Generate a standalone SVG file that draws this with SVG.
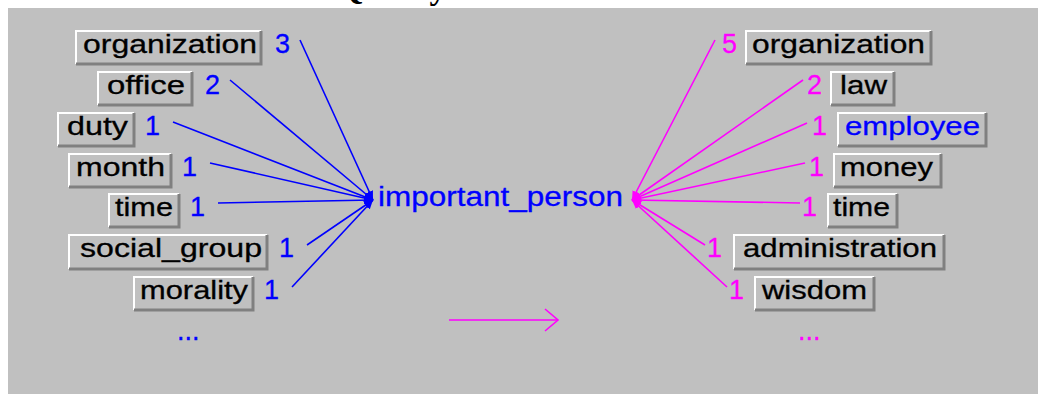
<svg xmlns="http://www.w3.org/2000/svg" width="1038" height="394" viewBox="0 0 1038 394">
  <style>
    .face { fill: #c0c0c0; }
    .hi { fill: none; stroke: #ffffff; stroke-width: 2; }
    .sh { fill: none; stroke: #808080; stroke-width: 3; }
    .lbl { font-family: "Liberation Sans", Arial, sans-serif; font-size: 26px; fill: #000000; stroke: #000000; stroke-width: 0.3; }
    .num { font-family: "Liberation Sans", Arial, sans-serif; font-size: 27px; }
    .blue { fill: #0000ff; stroke: #0000ff; stroke-width: 0.3; }
    .mag { fill: #ff00ff; stroke: #ff00ff; stroke-width: 0.3; }
    .bl { stroke: #0000ff; stroke-width: 1.6; fill: none; }
    .ml { stroke: #ff00ff; stroke-width: 1.6; fill: none; }
  </style>
  <defs>
    <marker id="ab" markerUnits="userSpaceOnUse" markerWidth="9" markerHeight="8" refX="9" refY="4" orient="auto">
      <path d="M0,0 L9,4 L0,8 z" fill="#0000ff"/>
    </marker>
    <marker id="am" markerUnits="userSpaceOnUse" markerWidth="9" markerHeight="8" refX="9" refY="4" orient="auto">
      <path d="M0,0 L9,4 L0,8 z" fill="#ff00ff"/>
    </marker>
  </defs>

  <rect x="0" y="0" width="1038" height="394" fill="#ffffff"/>
  <text x="337" y="-1" font-family="'Liberation Serif', 'Times New Roman', serif" font-size="34" font-weight="bold" fill="#000000">Quality:</text>
  <rect x="8" y="8" width="1030" height="386" fill="#c0c0c0"/>

  <g id="connectors">
    <line class="bl" x1="300" y1="40" x2="373" y2="200" marker-end="url(#ab)"/>
    <line class="bl" x1="230" y1="80" x2="373" y2="200" marker-end="url(#ab)"/>
    <line class="bl" x1="173" y1="122" x2="373" y2="200" marker-end="url(#ab)"/>
    <line class="bl" x1="210" y1="163" x2="373" y2="200" marker-end="url(#ab)"/>
    <line class="bl" x1="218" y1="203" x2="373" y2="200" marker-end="url(#ab)"/>
    <line class="bl" x1="307" y1="245" x2="373" y2="200" marker-end="url(#ab)"/>
    <line class="bl" x1="292" y1="287" x2="373" y2="200" marker-end="url(#ab)"/>

    <line class="ml" x1="715" y1="40" x2="632" y2="200" marker-end="url(#am)"/>
    <line class="ml" x1="803" y1="80" x2="632" y2="200" marker-end="url(#am)"/>
    <line class="ml" x1="807" y1="123" x2="632" y2="200" marker-end="url(#am)"/>
    <line class="ml" x1="805" y1="163" x2="632" y2="200" marker-end="url(#am)"/>
    <line class="ml" x1="800" y1="203" x2="632" y2="200" marker-end="url(#am)"/>
    <line class="ml" x1="705" y1="245" x2="632" y2="200" marker-end="url(#am)"/>
    <line class="ml" x1="727" y1="287" x2="632" y2="200" marker-end="url(#am)"/>

    <line class="ml" x1="449" y1="320" x2="558" y2="320"/>
    <path class="ml" d="M545,309 L558,320 L545,331"/>
  </g>

  <g id="center">
    <text class="num blue" x="378" y="206" textLength="245" lengthAdjust="spacingAndGlyphs">important_person</text>
  </g>

  <!-- Left nodes -->
  <g id="l-organization">
    <rect class="face" x="75" y="30" width="187" height="35"/>
    <path class="hi" d="M76,64 V31 H261"/>
    <path class="sh" d="M76,64 H261 V31"/>
    <text class="lbl" x="83" y="53" textLength="174" lengthAdjust="spacingAndGlyphs">organization</text>
    <text class="num blue" x="275" y="53">3</text>
  </g>
  <g id="l-office">
    <rect class="face" x="97" y="71" width="96" height="35"/>
    <path class="hi" d="M98,105 V72 H192"/>
    <path class="sh" d="M98,105 H192 V72"/>
    <text class="lbl" x="107" y="94" textLength="78" lengthAdjust="spacingAndGlyphs">office</text>
    <text class="num blue" x="205" y="94">2</text>
  </g>
  <g id="l-duty">
    <rect class="face" x="57" y="112" width="78" height="35"/>
    <path class="hi" d="M58,146 V113 H134"/>
    <path class="sh" d="M58,146 H134 V113"/>
    <text class="lbl" x="67" y="135" textLength="61" lengthAdjust="spacingAndGlyphs">duty</text>
    <text class="num blue" x="145" y="135">1</text>
  </g>
  <g id="l-month">
    <rect class="face" x="68" y="153" width="104" height="35"/>
    <path class="hi" d="M69,187 V154 H171"/>
    <path class="sh" d="M69,187 H171 V154"/>
    <text class="lbl" x="76" y="176" textLength="89" lengthAdjust="spacingAndGlyphs">month</text>
    <text class="num blue" x="182" y="176">1</text>
  </g>
  <g id="l-time">
    <rect class="face" x="108" y="193" width="72" height="35"/>
    <path class="hi" d="M109,227 V194 H179"/>
    <path class="sh" d="M109,227 H179 V194"/>
    <text class="lbl" x="115" y="216" textLength="58" lengthAdjust="spacingAndGlyphs">time</text>
    <text class="num blue" x="190" y="216">1</text>
  </g>
  <g id="l-social_group">
    <rect class="face" x="68" y="234" width="200" height="36"/>
    <path class="hi" d="M69,269 V235 H267"/>
    <path class="sh" d="M69,269 H267 V235"/>
    <text class="lbl" x="80" y="257" textLength="182" lengthAdjust="spacingAndGlyphs">social_group</text>
    <text class="num blue" x="279" y="257">1</text>
  </g>
  <g id="l-morality">
    <rect class="face" x="133" y="276" width="121" height="35"/>
    <path class="hi" d="M134,310 V277 H253"/>
    <path class="sh" d="M134,310 H253 V277"/>
    <text class="lbl" x="140" y="299" textLength="108" lengthAdjust="spacingAndGlyphs">morality</text>
    <text class="num blue" x="264" y="299">1</text>
  </g>
  <g id="l-more">
    <text class="num blue" x="177" y="340">...</text>
  </g>

  <!-- Right nodes -->
  <g id="r-organization">
    <rect class="face" x="745" y="30" width="187" height="35"/>
    <path class="hi" d="M746,64 V31 H931"/>
    <path class="sh" d="M746,64 H931 V31"/>
    <text class="lbl" x="752" y="53" textLength="173" lengthAdjust="spacingAndGlyphs">organization</text>
    <text class="num mag" x="722" y="53">5</text>
  </g>
  <g id="r-law">
    <rect class="face" x="830" y="71" width="65" height="35"/>
    <path class="hi" d="M831,105 V72 H894"/>
    <path class="sh" d="M831,105 H894 V72"/>
    <text class="lbl" x="840" y="94" textLength="47" lengthAdjust="spacingAndGlyphs">law</text>
    <text class="num mag" x="807" y="94">2</text>
  </g>
  <g id="r-employee">
    <rect class="face" x="837" y="112" width="150" height="35"/>
    <path class="hi" d="M838,146 V113 H986"/>
    <path class="sh" d="M838,146 H986 V113"/>
    <text class="lbl blue" x="845" y="135" textLength="135" lengthAdjust="spacingAndGlyphs">employee</text>
    <text class="num mag" x="812" y="135">1</text>
  </g>
  <g id="r-money">
    <rect class="face" x="833" y="153" width="109" height="35"/>
    <path class="hi" d="M834,187 V154 H941"/>
    <path class="sh" d="M834,187 H941 V154"/>
    <text class="lbl" x="840" y="176" textLength="93" lengthAdjust="spacingAndGlyphs">money</text>
    <text class="num mag" x="809" y="176">1</text>
  </g>
  <g id="r-time">
    <rect class="face" x="827" y="193" width="71" height="35"/>
    <path class="hi" d="M828,227 V194 H897"/>
    <path class="sh" d="M828,227 H897 V194"/>
    <text class="lbl" x="833" y="216" textLength="57" lengthAdjust="spacingAndGlyphs">time</text>
    <text class="num mag" x="802" y="216">1</text>
  </g>
  <g id="r-administration">
    <rect class="face" x="733" y="234" width="212" height="36"/>
    <path class="hi" d="M734,269 V235 H944"/>
    <path class="sh" d="M734,269 H944 V235"/>
    <text class="lbl" x="743" y="257" textLength="194" lengthAdjust="spacingAndGlyphs">administration</text>
    <text class="num mag" x="707" y="257">1</text>
  </g>
  <g id="r-wisdom">
    <rect class="face" x="754" y="276" width="121" height="35"/>
    <path class="hi" d="M755,310 V277 H874"/>
    <path class="sh" d="M755,310 H874 V277"/>
    <text class="lbl" x="762" y="299" textLength="105" lengthAdjust="spacingAndGlyphs">wisdom</text>
    <text class="num mag" x="729" y="299">1</text>
  </g>
  <g id="r-more">
    <text class="num mag" x="798" y="340">...</text>
  </g>
</svg>
